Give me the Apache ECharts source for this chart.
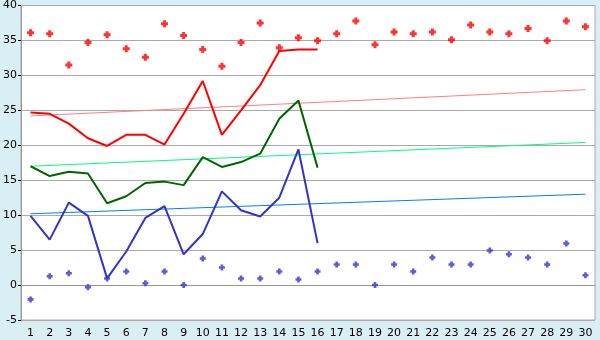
<!DOCTYPE html>
<html><head><meta charset="utf-8">
<script src="https://cdn.jsdelivr.net/npm/echarts@6/dist/echarts.min.js"></script>
<style>html,body{margin:0;padding:0;background:#daeef5;}#c{width:600px;height:340px;}</style>
</head><body><div id="c"></div>
<script>
const categories = ['1','2','3','4','5','6','7','8','9','10','11','12','13','14','15','16','17','18','19','20','21','22','23','24','25','26','27','28','29','30'];
const redLine = [24.7,24.5,23.1,21.0,19.9,21.5,21.5,20.1,24.5,29.2,21.5,25.0,28.6,33.5,33.7,33.7];
const greenLine = [17.0,15.6,16.2,15.95,11.7,12.7,14.6,14.8,14.3,18.3,16.9,17.6,18.8,23.8,26.4,16.8];
const blueLine = [9.9,6.5,11.8,9.9,0.95,4.8,9.6,11.3,4.4,7.3,13.4,10.7,9.8,12.5,19.4,6.0];
const redPoints = [36.1,35.95,31.5,34.7,35.8,33.8,32.6,37.4,35.7,33.7,31.3,34.7,37.5,33.95,35.4,34.95,35.95,37.8,34.4,36.2,35.95,36.2,35.1,37.2,36.2,35.95,36.7,34.95,37.8,36.95];
const bluePoints = [-2.05,1.25,1.7,-0.3,0.95,1.95,0.25,1.95,0,3.8,2.5,0.95,0.95,1.95,0.8,1.95,2.95,2.95,0,2.95,1.95,3.95,2.95,2.95,4.95,4.4,3.95,2.95,5.95,1.4];
const redTrend = [['1',24.2],['30',27.95]];
const greenTrend = [['1',17.0],['30',20.4]];
const blueTrend = [['1',10.2],['30',13.0]];
const yTicks = {min:-5,max:40,interval:5};

const plus = 'path://M2,0H5V2H7V5H5V7H2V5H0V2H2Z';
const chart = echarts.init(document.getElementById('c'));
function line(data,color,w){return {type:'line',data:data,symbol:'none',lineStyle:{color:color,width:w},itemStyle:{color:color},silent:true,animation:false};}
chart.setOption({
  backgroundColor:'#daeef5',
  animation:false,
  grid:{left:20,right:5,top:5.5,bottom:20,show:true,backgroundColor:'#ffffff',borderColor:'#aaaaaa',borderWidth:1},
  xAxis:{type:'category',data:categories,boundaryGap:true,
    axisLine:{lineStyle:{color:'#999999'}},
    axisTick:{alignWithLabel:true,length:6,lineStyle:{color:'#000'}},
    axisLabel:{color:'#000',fontSize:11,fontFamily:'DejaVu Sans',margin:8},
    splitLine:{show:false}},
  yAxis:{type:'value',min:yTicks.min,max:yTicks.max,interval:yTicks.interval,
    axisLine:{show:true,lineStyle:{color:'#999999'}},
    axisTick:{show:true,length:3,lineStyle:{color:'#000'}},
    axisLabel:{color:'#000',fontSize:11,fontFamily:'DejaVu Sans',margin:4,padding:[4,0,0,0]},
    splitLine:{lineStyle:{color:'#aaaaaa'}}},
  series:[
    line(redTrend,'#ff8080',1),
    line(greenTrend,'#00ff80',1),
    line(blueTrend,'#0080ff',1),
    line(redLine,'#ff0000',2),
    line(greenLine,'#006400',2),
    line(blueLine,'#3333cc',2),
    {type:'scatter',data:redPoints,symbol:plus,symbolSize:7,itemStyle:{color:'#ff0000'}},
    {type:'scatter',data:bluePoints,symbol:plus,symbolSize:6,itemStyle:{color:'#3333cc'}}
  ]
});
</script></body></html>
